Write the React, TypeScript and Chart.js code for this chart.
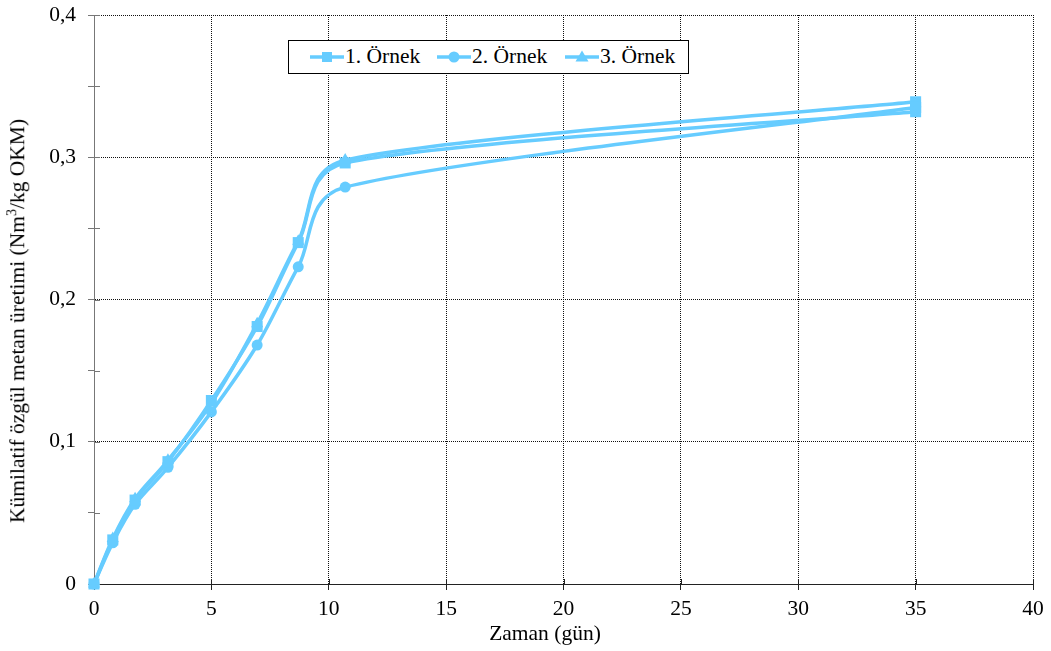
import React, { useEffect, useRef } from 'react';
import { Chart, registerables } from 'chart.js';

Chart.register(...registerables);

// ---- data ----
const days = [0, 0.8, 1.75, 3.15, 5, 6.95, 8.7, 10.7, 35];
const sample1 = [0, 0.031, 0.059, 0.086, 0.129, 0.181, 0.24, 0.296, 0.332];
const sample2 = [0, 0.029, 0.056, 0.082, 0.121, 0.168, 0.223, 0.279, 0.335];
const sample3 = [0, 0.032, 0.06, 0.087, 0.127, 0.183, 0.241, 0.298, 0.339];
const seriesLabels = ['1. Örnek', '2. Örnek', '3. Örnek'];
const yTickValues = [0, 0.1, 0.2, 0.3, 0.4];
const yTickLabels = ['0', '0,1', '0,2', '0,3', '0,4'];
const xTitle = 'Zaman (gün)';
const yTitleMain = 'Kümilatif özgül metan üretimi (Nm';
const yTitleSup = '3';
const yTitleEnd = '/kg OKM)';

const LINE = '#66CCFF';
const FONT = "'Liberation Serif', 'Times New Roman', serif";
const FS = 21.5;

// Excel-like smoothing (Catmull-Rom with clamped tangents)
const excelSmooth = {
  id: 'excelSmooth',
  afterDatasetsUpdate(chart: any) {
    chart.data.datasets.forEach((_ds: any, di: number) => {
      const meta = chart.getDatasetMeta(di);
      const pts = meta.data as any[];
      const n = pts.length;
      const k = 0.45;
      for (let i = 0; i < n; i++) {
        const p = pts[i];
        const prev = pts[i - 1] || p;
        const next = pts[i + 1] || p;
        const dx = (next.x - prev.x) / 6;
        const dy = (next.y - prev.y) / 6;
        const lt = Math.hypot(dx, dy);
        const lp = Math.hypot(p.x - prev.x, p.y - prev.y);
        const ln = Math.hypot(next.x - p.x, next.y - p.y);
        const sp = lt > 0 && lt > k * lp ? (k * lp) / lt : 1;
        const sn = lt > 0 && lt > k * ln ? (k * ln) / lt : 1;
        p.cp1x = p.x - dx * sp;
        p.cp1y = p.y - dy * sp;
        p.cp2x = p.x + dx * sn;
        p.cp2y = p.y + dy * sn;
      }
      if (meta.dataset) meta.dataset._pointsUpdated = true;
    });
  },
};

// inner half of the "cross" tick marks
const innerTicks = {
  id: 'innerTicks',
  beforeDatasetsDraw(chart: any) {
    const { ctx, chartArea, scales } = chart;
    ctx.save();
    ctx.lineWidth = 1;
    ctx.strokeStyle = '#777';
    scales.y.ticks.forEach((t: any) => {
      const py = Math.round(scales.y.getPixelForValue(t.value)) + 0.5;
      ctx.beginPath();
      ctx.moveTo(chartArea.left, py);
      ctx.lineTo(chartArea.left + 6, py);
      ctx.stroke();
    });
    ctx.strokeStyle = '#222';
    scales.x.ticks.forEach((t: any) => {
      const px = Math.round(scales.x.getPixelForValue(t.value)) + 0.5;
      ctx.beginPath();
      ctx.moveTo(px, chartArea.bottom);
      ctx.lineTo(px, chartArea.bottom - 5);
      ctx.stroke();
    });
    ctx.restore();
  },
};

const isMajorY = (v: number) => Math.abs(v * 10 - Math.round(v * 10)) < 1e-6;

function mkDataset(label: string, values: number[], style: string, radius: number) {
  const n = values.length;
  return {
    label,
    data: days.map((d, i) => ({ x: d, y: values[i] })),
    borderColor: LINE,
    backgroundColor: LINE,
    borderWidth: 3.5,
    tension: 0.3,
    clip: false,
    pointStyle: values.map((_, i) => (i === n - 1 ? 'rect' : style)),
    pointRadius: values.map((_, i) => (i === n - 1 || style === 'rect' ? 7.8 : radius)),
    pointBorderWidth: 0,
    pointBackgroundColor: LINE,
    pointBorderColor: LINE,
  };
}

function LegendMarker({ shape }: { shape: string }) {
  return (
    <svg width={34} height={20} style={{ display: 'block' }}>
      <line x1={0} y1={10} x2={34} y2={10} stroke={LINE} strokeWidth={3.5} />
      {shape === 'rect' && <rect x={12} y={5} width={10} height={10} fill={LINE} />}
      {shape === 'circle' && <circle cx={17} cy={10} r={5.5} fill={LINE} />}
      {shape === 'triangle' && <polygon points="17,3.5 23.5,14.5 10.5,14.5" fill={LINE} />}
    </svg>
  );
}

const legendMarkerLeft = [21, 148, 276];
const legendTextLeft = [56, 183, 311];

export default function App() {
  const ref = useRef<HTMLCanvasElement | null>(null);

  useEffect(() => {
    if (!ref.current) return;
    const chart = new Chart(ref.current, {
      type: 'line',
      data: {
        datasets: [
          mkDataset(seriesLabels[0], sample1, 'rect', 7.8),
          mkDataset(seriesLabels[1], sample2, 'circle', 5.5),
          mkDataset(seriesLabels[2], sample3, 'triangle', 7),
        ] as any,
      },
      options: {
        animation: false,
        responsive: false,
        devicePixelRatio: 1,
        layout: { padding: { left: 0, top: 15, right: 18, bottom: 0 } },
        plugins: { legend: { display: false }, tooltip: { enabled: false } },
        scales: {
          x: {
            type: 'linear',
            min: 0,
            max: 40,
            afterFit: (s: any) => {
              s.height = 67;
              s.paddingLeft = 0;
              s.paddingRight = 0;
            },
            ticks: {
              stepSize: 5,
              color: '#000',
              font: { family: FONT, size: FS },
              padding: 6,
              callback: (v: any) => String(v),
            },
            grid: {
              color: '#111',
              tickColor: '#222',
              tickLength: 6,
              lineWidth: 1,
            },
            border: { color: '#222', width: 1, dash: [1, 1] },
          },
          y: {
            type: 'linear',
            min: 0,
            max: 0.4,
            afterFit: (s: any) => {
              s.width = 94;
              s.paddingTop = 0;
              s.paddingBottom = 0;
            },
            ticks: {
              stepSize: 0.05,
              color: '#000',
              font: { family: FONT, size: FS },
              padding: 12,
              autoSkip: false,
              callback: (v: any) => {
                if (!isMajorY(v)) return '';
                const idx = yTickValues.findIndex((t) => Math.abs(t - v) < 1e-6);
                return idx >= 0 ? yTickLabels[idx] : '';
              },
            },
            grid: {
              color: (c: any) => (c.tick && isMajorY(c.tick.value) ? '#111' : 'rgba(0,0,0,0)'),
              tickColor: '#777',
              tickLength: 6,
              lineWidth: 1,
            },
            border: { color: '#777', width: 1, dash: [1, 1] },
          },
        },
      } as any,
      plugins: [excelSmooth, innerTicks],
    });
    return () => chart.destroy();
  }, []);

  const shapes = ['rect', 'circle', 'triangle'];

  return (
    <div style={{ position: 'fixed', left: 0, top: 0, width: 1051, height: 651, background: '#fff', overflow: 'hidden' }}>
      <canvas ref={ref} width={1051} height={651} style={{ position: 'absolute', left: 0, top: 0, width: 1051, height: 651 }} />
      <div
        style={{
          position: 'absolute',
          left: 288,
          top: 40,
          width: 401,
          height: 34,
          boxSizing: 'border-box',
          border: '1px solid #000',
          background: '#fff',
          fontFamily: FONT,
          fontSize: FS,
          color: '#000',
        }}
      >
        {seriesLabels.map((l, i) => (
          <React.Fragment key={l}>
            <div style={{ position: 'absolute', left: legendMarkerLeft[i], top: 6 }}>
              <LegendMarker shape={shapes[i]} />
            </div>
            <span
              style={{
                position: 'absolute',
                left: legendTextLeft[i],
                top: 16,
                transform: 'translateY(-50%)',
                whiteSpace: 'nowrap',
                lineHeight: 1,
              }}
            >
              {l}
            </span>
          </React.Fragment>
        ))}
      </div>
      <div
        style={{
          position: 'absolute',
          left: 18,
          top: 321,
          transform: 'translate(-50%, -50%) rotate(-90deg)',
          whiteSpace: 'nowrap',
          fontFamily: FONT,
          fontSize: FS,
          lineHeight: 1,
          color: '#000',
        }}
      >
        {yTitleMain}
        <span style={{ fontSize: 14, verticalAlign: 'super', lineHeight: 0 }}>{yTitleSup}</span>
        {yTitleEnd}
      </div>
      <div
        style={{
          position: 'absolute',
          left: 545,
          top: 634,
          transform: 'translate(-50%, -50%)',
          whiteSpace: 'nowrap',
          fontFamily: FONT,
          fontSize: FS,
          lineHeight: 1,
          color: '#000',
        }}
      >
        {xTitle}
      </div>
    </div>
  );
}
